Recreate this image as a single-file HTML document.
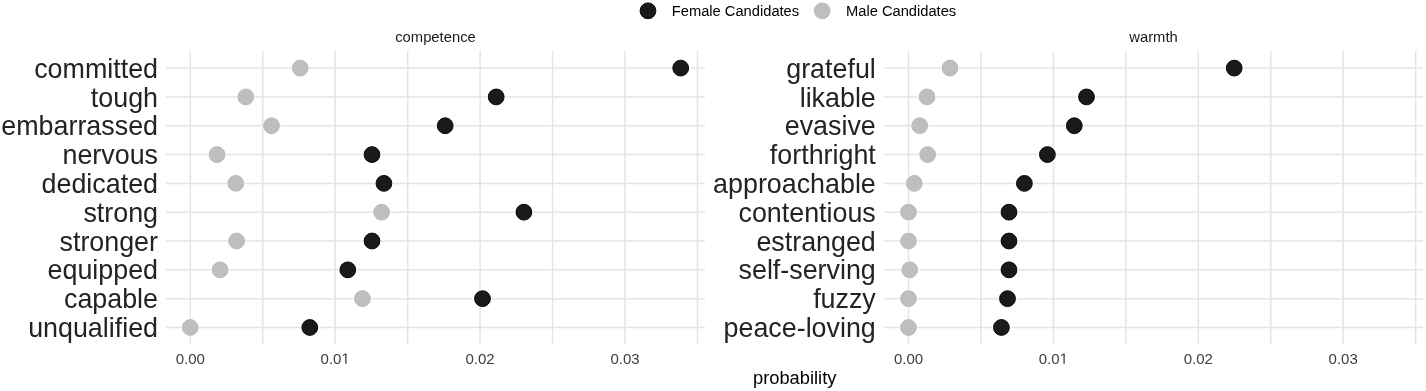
<!DOCTYPE html>
<html><head><meta charset="utf-8"><title>chart</title>
<style>
html,body{margin:0;padding:0;background:#fff;}
body{width:1426px;height:391px;overflow:hidden;}
svg{display:block;will-change:transform;font-family:"Liberation Sans",sans-serif;}
</style></head>
<body>
<svg width="1426" height="391" viewBox="0 0 1426 391">
<rect width="1426" height="391" fill="#fff"/>
<line x1="190.30" y1="50.8" x2="190.30" y2="344.8" stroke="#e4e4e4" stroke-width="1.5"/>
<line x1="262.75" y1="50.8" x2="262.75" y2="344.8" stroke="#e4e4e4" stroke-width="1.5"/>
<line x1="335.20" y1="50.8" x2="335.20" y2="344.8" stroke="#e4e4e4" stroke-width="1.5"/>
<line x1="407.65" y1="50.8" x2="407.65" y2="344.8" stroke="#e4e4e4" stroke-width="1.5"/>
<line x1="480.10" y1="50.8" x2="480.10" y2="344.8" stroke="#e4e4e4" stroke-width="1.5"/>
<line x1="552.55" y1="50.8" x2="552.55" y2="344.8" stroke="#e4e4e4" stroke-width="1.5"/>
<line x1="625.00" y1="50.8" x2="625.00" y2="344.8" stroke="#e4e4e4" stroke-width="1.5"/>
<line x1="697.45" y1="50.8" x2="697.45" y2="344.8" stroke="#e4e4e4" stroke-width="1.5"/>
<line x1="166.0" y1="68.10" x2="705.0" y2="68.10" stroke="#e4e4e4" stroke-width="1.5"/>
<line x1="166.0" y1="96.92" x2="705.0" y2="96.92" stroke="#e4e4e4" stroke-width="1.5"/>
<line x1="166.0" y1="125.74" x2="705.0" y2="125.74" stroke="#e4e4e4" stroke-width="1.5"/>
<line x1="166.0" y1="154.56" x2="705.0" y2="154.56" stroke="#e4e4e4" stroke-width="1.5"/>
<line x1="166.0" y1="183.38" x2="705.0" y2="183.38" stroke="#e4e4e4" stroke-width="1.5"/>
<line x1="166.0" y1="212.20" x2="705.0" y2="212.20" stroke="#e4e4e4" stroke-width="1.5"/>
<line x1="166.0" y1="241.02" x2="705.0" y2="241.02" stroke="#e4e4e4" stroke-width="1.5"/>
<line x1="166.0" y1="269.84" x2="705.0" y2="269.84" stroke="#e4e4e4" stroke-width="1.5"/>
<line x1="166.0" y1="298.66" x2="705.0" y2="298.66" stroke="#e4e4e4" stroke-width="1.5"/>
<line x1="166.0" y1="327.48" x2="705.0" y2="327.48" stroke="#e4e4e4" stroke-width="1.5"/>
<text x="158.0" y="77.70" text-anchor="end" font-size="26.85" fill="#232323">committed</text>
<text x="158.0" y="106.52" text-anchor="end" font-size="26.85" fill="#232323">tough</text>
<text x="158.0" y="135.34" text-anchor="end" font-size="26.85" fill="#232323">embarrassed</text>
<text x="158.0" y="164.16" text-anchor="end" font-size="26.85" fill="#232323">nervous</text>
<text x="158.0" y="192.98" text-anchor="end" font-size="26.85" fill="#232323">dedicated</text>
<text x="158.0" y="221.80" text-anchor="end" font-size="26.85" fill="#232323">strong</text>
<text x="158.0" y="250.62" text-anchor="end" font-size="26.85" fill="#232323">stronger</text>
<text x="158.0" y="279.44" text-anchor="end" font-size="26.85" fill="#232323">equipped</text>
<text x="158.0" y="308.26" text-anchor="end" font-size="26.85" fill="#232323">capable</text>
<text x="158.0" y="337.08" text-anchor="end" font-size="26.85" fill="#232323">unqualified</text>
<circle cx="300.2" cy="68.10" r="9.0" fill="#fff"/>
<circle cx="680.7" cy="68.10" r="9.6" fill="#fff"/>
<circle cx="300.2" cy="68.10" r="7.9" fill="#bebebe" stroke="#bababa" stroke-width="1"/>
<circle cx="680.7" cy="68.10" r="7.9" fill="#1a1a1a" stroke="#080808" stroke-width="1"/>
<circle cx="245.8" cy="96.92" r="9.0" fill="#fff"/>
<circle cx="496.2" cy="96.92" r="9.6" fill="#fff"/>
<circle cx="245.8" cy="96.92" r="7.9" fill="#bebebe" stroke="#bababa" stroke-width="1"/>
<circle cx="496.2" cy="96.92" r="7.9" fill="#1a1a1a" stroke="#080808" stroke-width="1"/>
<circle cx="271.5" cy="125.74" r="9.0" fill="#fff"/>
<circle cx="445.2" cy="125.74" r="9.6" fill="#fff"/>
<circle cx="271.5" cy="125.74" r="7.9" fill="#bebebe" stroke="#bababa" stroke-width="1"/>
<circle cx="445.2" cy="125.74" r="7.9" fill="#1a1a1a" stroke="#080808" stroke-width="1"/>
<circle cx="217.0" cy="154.56" r="9.0" fill="#fff"/>
<circle cx="372.0" cy="154.56" r="9.6" fill="#fff"/>
<circle cx="217.0" cy="154.56" r="7.9" fill="#bebebe" stroke="#bababa" stroke-width="1"/>
<circle cx="372.0" cy="154.56" r="7.9" fill="#1a1a1a" stroke="#080808" stroke-width="1"/>
<circle cx="235.8" cy="183.38" r="9.0" fill="#fff"/>
<circle cx="383.9" cy="183.38" r="9.6" fill="#fff"/>
<circle cx="235.8" cy="183.38" r="7.9" fill="#bebebe" stroke="#bababa" stroke-width="1"/>
<circle cx="383.9" cy="183.38" r="7.9" fill="#1a1a1a" stroke="#080808" stroke-width="1"/>
<circle cx="381.6" cy="212.20" r="9.0" fill="#fff"/>
<circle cx="523.9" cy="212.20" r="9.6" fill="#fff"/>
<circle cx="381.6" cy="212.20" r="7.9" fill="#bebebe" stroke="#bababa" stroke-width="1"/>
<circle cx="523.9" cy="212.20" r="7.9" fill="#1a1a1a" stroke="#080808" stroke-width="1"/>
<circle cx="236.6" cy="241.02" r="9.0" fill="#fff"/>
<circle cx="372.0" cy="241.02" r="9.6" fill="#fff"/>
<circle cx="236.6" cy="241.02" r="7.9" fill="#bebebe" stroke="#bababa" stroke-width="1"/>
<circle cx="372.0" cy="241.02" r="7.9" fill="#1a1a1a" stroke="#080808" stroke-width="1"/>
<circle cx="220.1" cy="269.84" r="9.0" fill="#fff"/>
<circle cx="347.8" cy="269.84" r="9.6" fill="#fff"/>
<circle cx="220.1" cy="269.84" r="7.9" fill="#bebebe" stroke="#bababa" stroke-width="1"/>
<circle cx="347.8" cy="269.84" r="7.9" fill="#1a1a1a" stroke="#080808" stroke-width="1"/>
<circle cx="362.4" cy="298.66" r="9.0" fill="#fff"/>
<circle cx="482.5" cy="298.66" r="9.6" fill="#fff"/>
<circle cx="362.4" cy="298.66" r="7.9" fill="#bebebe" stroke="#bababa" stroke-width="1"/>
<circle cx="482.5" cy="298.66" r="7.9" fill="#1a1a1a" stroke="#080808" stroke-width="1"/>
<circle cx="190.2" cy="327.48" r="9.0" fill="#fff"/>
<circle cx="309.8" cy="327.48" r="9.6" fill="#fff"/>
<circle cx="190.2" cy="327.48" r="7.9" fill="#bebebe" stroke="#bababa" stroke-width="1"/>
<circle cx="309.8" cy="327.48" r="7.9" fill="#1a1a1a" stroke="#080808" stroke-width="1"/>
<text x="190.30" y="363.7" text-anchor="middle" font-size="15.0" fill="#3d3d3d">0.00</text>
<text x="320.61" y="363.7" font-size="15.0" fill="#3d3d3d">0.0</text>
<path d="M345.23,363.70 L346.55,363.70 L346.55,353.38 L345.34,353.38 L342.90,355.06 L342.90,356.30 L345.23,354.64 Z" fill="#3d3d3d"/>
<text x="480.10" y="363.7" text-anchor="middle" font-size="15.0" fill="#3d3d3d">0.02</text>
<text x="625.00" y="363.7" text-anchor="middle" font-size="15.0" fill="#3d3d3d">0.03</text>
<line x1="908.50" y1="50.8" x2="908.50" y2="344.8" stroke="#e4e4e4" stroke-width="1.5"/>
<line x1="980.95" y1="50.8" x2="980.95" y2="344.8" stroke="#e4e4e4" stroke-width="1.5"/>
<line x1="1053.40" y1="50.8" x2="1053.40" y2="344.8" stroke="#e4e4e4" stroke-width="1.5"/>
<line x1="1125.85" y1="50.8" x2="1125.85" y2="344.8" stroke="#e4e4e4" stroke-width="1.5"/>
<line x1="1198.30" y1="50.8" x2="1198.30" y2="344.8" stroke="#e4e4e4" stroke-width="1.5"/>
<line x1="1270.75" y1="50.8" x2="1270.75" y2="344.8" stroke="#e4e4e4" stroke-width="1.5"/>
<line x1="1343.20" y1="50.8" x2="1343.20" y2="344.8" stroke="#e4e4e4" stroke-width="1.5"/>
<line x1="1415.65" y1="50.8" x2="1415.65" y2="344.8" stroke="#e4e4e4" stroke-width="1.5"/>
<line x1="884.0" y1="68.10" x2="1423.0" y2="68.10" stroke="#e4e4e4" stroke-width="1.5"/>
<line x1="884.0" y1="96.92" x2="1423.0" y2="96.92" stroke="#e4e4e4" stroke-width="1.5"/>
<line x1="884.0" y1="125.74" x2="1423.0" y2="125.74" stroke="#e4e4e4" stroke-width="1.5"/>
<line x1="884.0" y1="154.56" x2="1423.0" y2="154.56" stroke="#e4e4e4" stroke-width="1.5"/>
<line x1="884.0" y1="183.38" x2="1423.0" y2="183.38" stroke="#e4e4e4" stroke-width="1.5"/>
<line x1="884.0" y1="212.20" x2="1423.0" y2="212.20" stroke="#e4e4e4" stroke-width="1.5"/>
<line x1="884.0" y1="241.02" x2="1423.0" y2="241.02" stroke="#e4e4e4" stroke-width="1.5"/>
<line x1="884.0" y1="269.84" x2="1423.0" y2="269.84" stroke="#e4e4e4" stroke-width="1.5"/>
<line x1="884.0" y1="298.66" x2="1423.0" y2="298.66" stroke="#e4e4e4" stroke-width="1.5"/>
<line x1="884.0" y1="327.48" x2="1423.0" y2="327.48" stroke="#e4e4e4" stroke-width="1.5"/>
<text x="875.8" y="77.70" text-anchor="end" font-size="26.85" fill="#232323">grateful</text>
<text x="875.8" y="106.52" text-anchor="end" font-size="26.85" fill="#232323">likable</text>
<text x="875.8" y="135.34" text-anchor="end" font-size="26.85" fill="#232323">evasive</text>
<text x="875.8" y="164.16" text-anchor="end" font-size="26.85" fill="#232323">forthright</text>
<text x="875.8" y="192.98" text-anchor="end" font-size="26.85" fill="#232323">approachable</text>
<text x="875.8" y="221.80" text-anchor="end" font-size="26.85" fill="#232323">contentious</text>
<text x="875.8" y="250.62" text-anchor="end" font-size="26.85" fill="#232323">estranged</text>
<text x="875.8" y="279.44" text-anchor="end" font-size="26.85" fill="#232323">self-serving</text>
<text x="875.8" y="308.26" text-anchor="end" font-size="26.85" fill="#232323">fuzzy</text>
<text x="875.8" y="337.08" text-anchor="end" font-size="26.85" fill="#232323">peace-loving</text>
<circle cx="950.0" cy="68.10" r="9.0" fill="#fff"/>
<circle cx="1234.2" cy="68.10" r="9.6" fill="#fff"/>
<circle cx="950.0" cy="68.10" r="7.9" fill="#bebebe" stroke="#bababa" stroke-width="1"/>
<circle cx="1234.2" cy="68.10" r="7.9" fill="#1a1a1a" stroke="#080808" stroke-width="1"/>
<circle cx="927.0" cy="96.92" r="9.0" fill="#fff"/>
<circle cx="1086.5" cy="96.92" r="9.6" fill="#fff"/>
<circle cx="927.0" cy="96.92" r="7.9" fill="#bebebe" stroke="#bababa" stroke-width="1"/>
<circle cx="1086.5" cy="96.92" r="7.9" fill="#1a1a1a" stroke="#080808" stroke-width="1"/>
<circle cx="919.7" cy="125.74" r="9.0" fill="#fff"/>
<circle cx="1074.3" cy="125.74" r="9.6" fill="#fff"/>
<circle cx="919.7" cy="125.74" r="7.9" fill="#bebebe" stroke="#bababa" stroke-width="1"/>
<circle cx="1074.3" cy="125.74" r="7.9" fill="#1a1a1a" stroke="#080808" stroke-width="1"/>
<circle cx="927.7" cy="154.56" r="9.0" fill="#fff"/>
<circle cx="1047.4" cy="154.56" r="9.6" fill="#fff"/>
<circle cx="927.7" cy="154.56" r="7.9" fill="#bebebe" stroke="#bababa" stroke-width="1"/>
<circle cx="1047.4" cy="154.56" r="7.9" fill="#1a1a1a" stroke="#080808" stroke-width="1"/>
<circle cx="914.3" cy="183.38" r="9.0" fill="#fff"/>
<circle cx="1024.4" cy="183.38" r="9.6" fill="#fff"/>
<circle cx="914.3" cy="183.38" r="7.9" fill="#bebebe" stroke="#bababa" stroke-width="1"/>
<circle cx="1024.4" cy="183.38" r="7.9" fill="#1a1a1a" stroke="#080808" stroke-width="1"/>
<circle cx="908.5" cy="212.20" r="9.0" fill="#fff"/>
<circle cx="1009.0" cy="212.20" r="9.6" fill="#fff"/>
<circle cx="908.5" cy="212.20" r="7.9" fill="#bebebe" stroke="#bababa" stroke-width="1"/>
<circle cx="1009.0" cy="212.20" r="7.9" fill="#1a1a1a" stroke="#080808" stroke-width="1"/>
<circle cx="908.5" cy="241.02" r="9.0" fill="#fff"/>
<circle cx="1009.0" cy="241.02" r="9.6" fill="#fff"/>
<circle cx="908.5" cy="241.02" r="7.9" fill="#bebebe" stroke="#bababa" stroke-width="1"/>
<circle cx="1009.0" cy="241.02" r="7.9" fill="#1a1a1a" stroke="#080808" stroke-width="1"/>
<circle cx="909.7" cy="269.84" r="9.0" fill="#fff"/>
<circle cx="1009.0" cy="269.84" r="9.6" fill="#fff"/>
<circle cx="909.7" cy="269.84" r="7.9" fill="#bebebe" stroke="#bababa" stroke-width="1"/>
<circle cx="1009.0" cy="269.84" r="7.9" fill="#1a1a1a" stroke="#080808" stroke-width="1"/>
<circle cx="908.5" cy="298.66" r="9.0" fill="#fff"/>
<circle cx="1007.5" cy="298.66" r="9.6" fill="#fff"/>
<circle cx="908.5" cy="298.66" r="7.9" fill="#bebebe" stroke="#bababa" stroke-width="1"/>
<circle cx="1007.5" cy="298.66" r="7.9" fill="#1a1a1a" stroke="#080808" stroke-width="1"/>
<circle cx="908.5" cy="327.48" r="9.0" fill="#fff"/>
<circle cx="1001.4" cy="327.48" r="9.6" fill="#fff"/>
<circle cx="908.5" cy="327.48" r="7.9" fill="#bebebe" stroke="#bababa" stroke-width="1"/>
<circle cx="1001.4" cy="327.48" r="7.9" fill="#1a1a1a" stroke="#080808" stroke-width="1"/>
<text x="908.50" y="363.7" text-anchor="middle" font-size="15.0" fill="#3d3d3d">0.00</text>
<text x="1038.81" y="363.7" font-size="15.0" fill="#3d3d3d">0.0</text>
<path d="M1063.43,363.70 L1064.75,363.70 L1064.75,353.38 L1063.54,353.38 L1061.10,355.06 L1061.10,356.30 L1063.43,354.64 Z" fill="#3d3d3d"/>
<text x="1198.30" y="363.7" text-anchor="middle" font-size="15.0" fill="#3d3d3d">0.02</text>
<text x="1343.20" y="363.7" text-anchor="middle" font-size="15.0" fill="#3d3d3d">0.03</text>
<text x="435.5" y="42.3" text-anchor="middle" font-size="14.8" fill="#1a1a1a">competence</text>
<text x="1153.5" y="42.3" text-anchor="middle" font-size="14.8" fill="#1a1a1a">warmth</text>
<text x="794.7" y="383.8" text-anchor="middle" font-size="18.3" fill="#000">probability</text>
<circle cx="648.0" cy="10.8" r="7.9" fill="#1a1a1a" stroke="#080808" stroke-width="1"/>
<text transform="translate(671.8,16.4) scale(1,1.03)" font-size="14.7" fill="#000">Female Candidates</text>
<circle cx="822.2" cy="10.8" r="7.9" fill="#bebebe" stroke="#bababa" stroke-width="1"/>
<text transform="translate(846.0,16.4) scale(1,1.03)" font-size="14.7" fill="#000">Male Candidates</text>
</svg>
</body></html>
